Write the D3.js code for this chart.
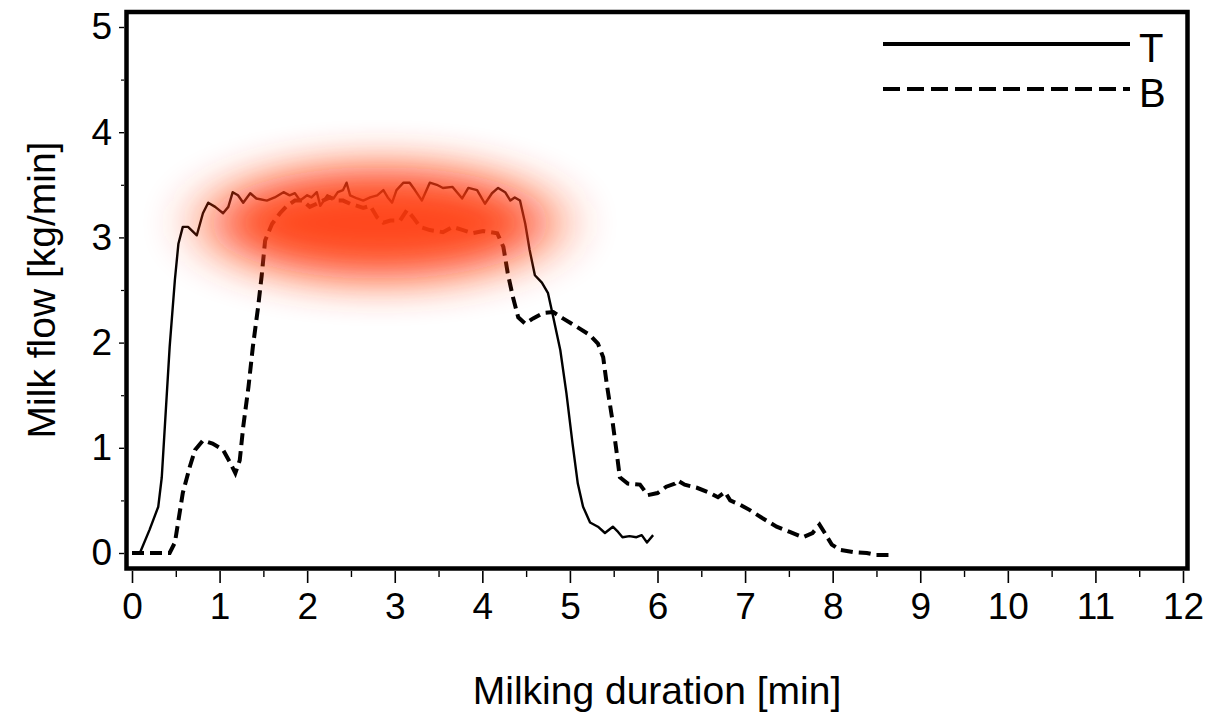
<!DOCTYPE html>
<html>
<head>
    <meta charset="utf-8">
    <title>Milk flow</title>
    <script src="https://d3js.org/d3.v7.min.js"></script>
    <style>
        body { margin: 0; background: #fff; }
        text { font-family: Arial, "Liberation Sans", sans-serif; fill: #000; }
    </style>
</head>

<body>
<div id="chart"></div>
<script type="text/javascript">
    // curve T (solid) - milking duration [min] / milk flow [kg/min]
    let tTime = [0, 0.09, 0.2, 0.3, 0.34, 0.43, 0.49, 0.53, 0.58, 0.64, 0.74, 0.81, 0.87, 0.95,
        1.04, 1.1, 1.15, 1.21, 1.27, 1.35, 1.42, 1.54, 1.63, 1.73, 1.8, 1.86, 1.92, 2.0, 2.05,
        2.11, 2.15, 2.23, 2.3, 2.35, 2.41, 2.45, 2.49, 2.57, 2.64, 2.72, 2.8, 2.87, 2.92, 2.97,
        3.02, 3.1, 3.17, 3.23, 3.31, 3.4, 3.48, 3.55, 3.66, 3.77, 3.84, 3.94, 4.03, 4.11, 4.18,
        4.26, 4.32, 4.37, 4.43, 4.49, 4.54, 4.6, 4.68, 4.75, 4.81, 4.89, 4.96, 5.03, 5.09, 5.15,
        5.23, 5.32, 5.4, 5.49, 5.55, 5.6, 5.68, 5.76, 5.82, 5.88, 5.95];
    let tFlow = [0, 0, 0.22, 0.44, 0.72, 1.96, 2.6, 2.94, 3.1, 3.1, 3.02, 3.23, 3.33, 3.29,
        3.23, 3.29, 3.43, 3.4, 3.33, 3.42, 3.37, 3.35, 3.38, 3.43, 3.4, 3.42, 3.35, 3.4, 3.38,
        3.43, 3.3, 3.4, 3.37, 3.43, 3.45, 3.52, 3.4, 3.37, 3.35, 3.38, 3.4, 3.45, 3.38, 3.33,
        3.45, 3.52, 3.52, 3.45, 3.35, 3.52, 3.5, 3.47, 3.48, 3.37, 3.47, 3.45, 3.32, 3.42, 3.47,
        3.43, 3.35, 3.38, 3.35, 3.13, 2.88, 2.64, 2.57, 2.47, 2.24, 1.93, 1.52, 1.04, 0.66, 0.44,
        0.29, 0.25, 0.19, 0.25, 0.2, 0.15, 0.16, 0.15, 0.17, 0.1, 0.17];

    // curve B (dashed)
    let bTime = [0, 0.15, 0.43, 0.49, 0.58, 0.66, 0.72, 0.81, 0.92, 1.04, 1.12, 1.18, 1.23, 1.27,
        1.33, 1.38, 1.44, 1.48, 1.52, 1.6, 1.69, 1.77, 1.86, 1.95, 2.03, 2.11, 2.18, 2.26, 2.34,
        2.41, 2.49, 2.57, 2.64, 2.72, 2.8, 2.87, 2.95, 3.06, 3.14, 3.21, 3.29, 3.4, 3.55, 3.66,
        3.78, 3.89, 4.01, 4.17, 4.24, 4.29, 4.35, 4.41, 4.49, 4.58, 4.69, 4.81, 4.92, 5.08, 5.23,
        5.32, 5.38, 5.42, 5.48, 5.53, 5.57, 5.66, 5.8, 5.89, 6.0, 6.1, 6.2, 6.23, 6.31, 6.45,
        6.6, 6.69, 6.77, 6.83, 6.94, 7.05, 7.2, 7.36, 7.51, 7.66, 7.77, 7.85, 7.91, 7.99, 8.08,
        8.23, 8.39, 8.5, 8.65];
    let bFlow = [0, 0, 0, 0.1, 0.57, 0.82, 0.98, 1.07, 1.04, 0.98, 0.86, 0.76, 0.88, 1.2,
        1.58, 1.96, 2.34, 2.63, 2.97, 3.13, 3.23, 3.3, 3.35, 3.35, 3.29, 3.32, 3.35, 3.38, 3.35,
        3.35, 3.32, 3.3, 3.28, 3.3, 3.19, 3.14, 3.16, 3.16, 3.26, 3.19, 3.1, 3.07, 3.05, 3.1,
        3.07, 3.04, 3.06, 3.04, 2.91, 2.66, 2.43, 2.24, 2.18, 2.23, 2.28, 2.29, 2.23, 2.15, 2.07,
        1.99, 1.86, 1.61, 1.29, 0.98, 0.72, 0.66, 0.65, 0.55, 0.57, 0.63, 0.66, 0.69, 0.65, 0.62,
        0.57, 0.53, 0.58, 0.5, 0.46, 0.41, 0.33, 0.25, 0.2, 0.15, 0.19, 0.27, 0.19, 0.08, 0.03,
        0.01, 0, -0.02, -0.02];

    let xTicks = [0, 1, 2, 3, 4, 5, 6, 7, 8, 9, 10, 11, 12];
    let yTicks = [0, 1, 2, 3, 4, 5];
    let legendNames = ["T", "B"];

    let W = 1213, H = 714;

    let svg = d3.select("#chart")
        .append("svg")
            .attr("width", W)
            .attr("height", H);

    let xScale = d3.scaleLinear().domain([0, 12]).range([132, 1183]);
    let yScale = d3.scaleLinear().domain([0, 5]).range([553, 27]);

    // eixo x: ticks abaixo da moldura
    let xAxis = d3.axisBottom(xScale)
        .tickValues(xTicks)
        .tickSize(12)
        .tickPadding(10)
        .tickFormat(d3.format("d"));
    let gx = svg.append("g")
        .attr("transform", "translate(0,571)")
        .call(xAxis);
    gx.select(".domain").remove();
    gx.selectAll(".tick line").attr("stroke", "#000").attr("stroke-width", 1.6);
    gx.selectAll(".tick text")
        .attr("font-size", "37px")
        .attr("dy", null)
        .attr("y", 48)
        .style("font-family", "Arial, 'Liberation Sans', sans-serif");
    let gxMinor = svg.append("g")
        .attr("transform", "translate(0,571)")
        .call(d3.axisBottom(xScale).tickValues(d3.range(0.5, 12, 1)).tickSize(6).tickFormat(""));
    gxMinor.select(".domain").remove();
    gxMinor.selectAll(".tick line").attr("stroke", "#000").attr("stroke-width", 1.4);

    // eixo y: ticks a esquerda
    let yAxis = d3.axisLeft(yScale)
        .tickValues(yTicks)
        .tickSize(5)
        .tickPadding(7)
        .tickFormat(d3.format("d"));
    let gy = svg.append("g")
        .attr("transform", "translate(124,0)")
        .call(yAxis);
    gy.select(".domain").remove();
    gy.selectAll(".tick line").attr("stroke", "#000").attr("stroke-width", 1.4);
    gy.selectAll(".tick text")
        .attr("font-size", "37px")
        .style("font-family", "Arial, 'Liberation Sans', sans-serif");
    let gyMinor = svg.append("g")
        .attr("transform", "translate(124,0)")
        .call(d3.axisLeft(yScale).tickValues(d3.range(0.5, 5, 1)).tickSize(3).tickFormat(""));
    gyMinor.select(".domain").remove();
    gyMinor.selectAll(".tick line").attr("stroke", "#000").attr("stroke-width", 1.2);

    // moldura
    svg.append("rect")
        .attr("x", 126.5)
        .attr("y", 12)
        .attr("width", 1061)
        .attr("height", 556.5)
        .attr("fill", "none")
        .attr("stroke", "#000")
        .attr("stroke-width", 4.5);

    let line = d3.line()
        .x(function(d){ return xScale(d[0]); })
        .y(function(d){ return yScale(d[1]); })
        .curve(d3.curveLinear);

    let tData = tTime.map(function(t, i){ return [t, tFlow[i]]; });
    let bData = bTime.map(function(t, i){ return [t, bFlow[i]]; });

    svg.append("path")
        .datum(tData)
        .attr("d", line)
        .attr("fill", "none")
        .attr("stroke", "#000")
        .attr("stroke-width", 2.4)
        .attr("stroke-linejoin", "round");

    svg.append("path")
        .datum(bData)
        .attr("d", line)
        .attr("fill", "none")
        .attr("stroke", "#000")
        .attr("stroke-width", 4)
        .attr("stroke-dasharray", "12,6");

    // mancha vermelha por cima das curvas
    let defs = svg.append("defs");
    defs.append("filter")
        .attr("id", "blur")
        .attr("x", "-100%").attr("y", "-200%")
        .attr("width", "300%").attr("height", "500%")
        .append("feGaussianBlur")
        .attr("stdDeviation", "32 22");
    svg.append("ellipse")
        .attr("cx", 380)
        .attr("cy", 223)
        .attr("rx", 172)
        .attr("ry", 56)
        .attr("fill", "#ff3a0a")
        .attr("opacity", 0.93)
        .attr("filter", "url(#blur)");

    // legenda
    let legend = svg.append("g");
    legend.selectAll("line")
        .data(legendNames)
        .enter()
        .append("line")
        .attr("x1", 883)
        .attr("x2", 1130)
        .attr("y1", function(d, i){ return 44 + i * 45; })
        .attr("y2", function(d, i){ return 44 + i * 45; })
        .attr("stroke", "#000")
        .attr("stroke-width", 4)
        .attr("stroke-dasharray", function(d, i){ return i == 0 ? null : "17,7"; });
    legend.selectAll("text")
        .data(legendNames)
        .enter()
        .append("text")
        .attr("x", 1139)
        .attr("y", function(d, i){ return 62 + i * 45; })
        .attr("font-size", "40px")
        .text(function(d){ return d; });

    // titulos dos eixos
    svg.append("text")
        .attr("x", 657)
        .attr("y", 704)
        .attr("text-anchor", "middle")
        .attr("font-size", "39px")
        .text("Milking duration [min]");
    svg.append("text")
        .attr("transform", "translate(55,290) rotate(-90)")
        .attr("text-anchor", "middle")
        .attr("font-size", "39px")
        .text("Milk flow [kg/min]");
</script>
</body>
</html>
